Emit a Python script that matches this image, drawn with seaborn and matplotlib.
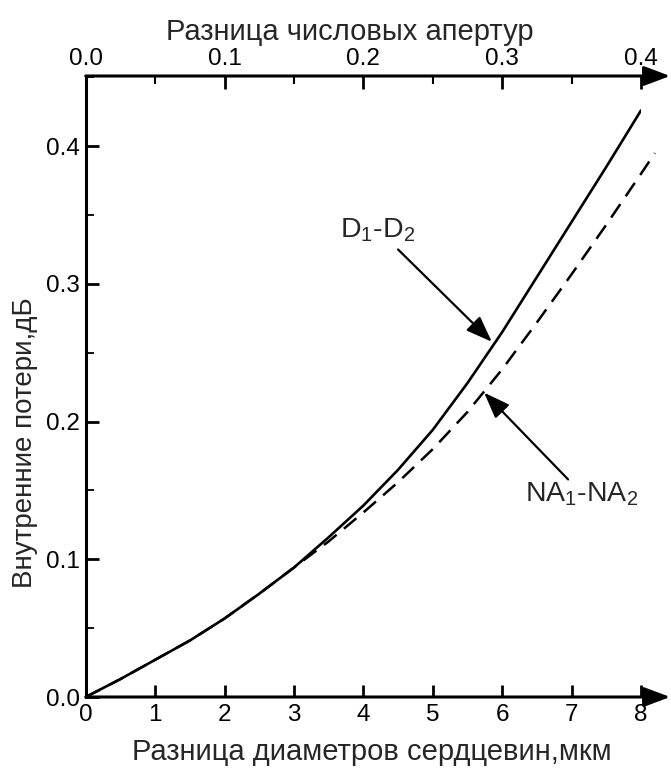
import matplotlib
matplotlib.use("Agg")
import matplotlib.pyplot as plt
from matplotlib.ticker import MultipleLocator
import pandas as pd
import seaborn as sns

# DATA

# core diameter difference, um -> intrinsic loss, dB
d_diff = [0, 0.5, 1, 1.5, 2, 2.5, 3, 3.5, 4, 4.5, 5, 5.5, 6, 6.5, 7, 7.5, 8]
d_loss = [0, 0.013, 0.027, 0.041, 0.057, 0.075, 0.094, 0.116, 0.139,
          0.165, 0.194, 0.228, 0.265, 0.305, 0.345, 0.385, 0.426]

# numerical aperture difference (plotted on the same bottom scale, x20)
na_diff = [0, 0.5, 1, 1.5, 2, 2.5, 3, 3.5, 4, 4.5, 5, 5.5, 6, 6.5, 7, 7.5, 8, 8.2]
na_loss = [0, 0.013, 0.027, 0.041, 0.057, 0.075, 0.094, 0.113, 0.134,
           0.156, 0.180, 0.207, 0.238, 0.272, 0.307, 0.343, 0.380, 0.395]

bottom_ticks = [0, 1, 2, 3, 4, 5, 6, 7, 8]
top_ticks = [0.0, 0.1, 0.2, 0.3, 0.4]
top_labels = ["0.0", "0.1", "0.2", "0.3", "0.4"]
y_ticks = [0.0, 0.1, 0.2, 0.3, 0.4]
y_labels = ["0.0", "0.1", "0.2", "0.3", "0.4"]

d_df = pd.DataFrame({"x": d_diff, "loss": d_loss})
na_df = pd.DataFrame({"x": na_diff, "loss": na_loss})

# STYLE

sns.set_theme(style="white")
plt.rcParams["font.family"] = ["Liberation Sans", "DejaVu Sans"]
plt.rcParams["mathtext.fontset"] = "custom"
plt.rcParams["mathtext.rm"] = "Liberation Sans"

W, H = 671, 771
left_px, right_px, bottom_px, top_px = 85.7, 641.0, 697.0, 76.0
Y_TOP = 0.451
X_TIP = 8.42

fig = plt.figure(figsize=(W / 100, H / 100), dpi=100)
fig.patch.set_facecolor("white")
ax = fig.add_axes([left_px / W, 1 - bottom_px / H,
                   (right_px - left_px) / W, (bottom_px - top_px) / H])

# CURVES

sns.lineplot(data=d_df, x="x", y="loss", ax=ax, color="black", lw=1.9)
sns.lineplot(data=na_df, x="x", y="loss", ax=ax, color="black", lw=1.8,
             linestyle=(0, (6.5, 3.8)), clip_on=False)

ax.set_xlim(0, 8)
ax.set_ylim(0, Y_TOP)

# AXES

for side in ["bottom", "top", "right"]:
    ax.spines[side].set_visible(False)
ax.spines["left"].set_linewidth(2.2)
ax.spines["left"].set_color("black")

arrow = dict(arrowstyle="-|>,head_length=0.8,head_width=0.3",
             mutation_scale=20, lw=2.2, color="black",
             shrinkA=0, shrinkB=0)
ax.annotate("", xy=(X_TIP, 0), xytext=(0, 0), arrowprops=arrow,
            annotation_clip=False)
ax.annotate("", xy=(X_TIP, Y_TOP), xytext=(0, Y_TOP), arrowprops=arrow,
            annotation_clip=False)

ax.set_xticks(bottom_ticks)
ax.set_xticklabels([str(t) for t in bottom_ticks])
ax.set_yticks(y_ticks)
ax.set_yticklabels(y_labels)
ax.yaxis.set_minor_locator(MultipleLocator(0.05))
ax.tick_params(axis="x", which="major", direction="in", bottom=True, top=False,
               length=9, width=2, labelsize=17.5, pad=5, colors="black")
ax.tick_params(axis="y", which="major", direction="in", left=True, right=False,
               length=9, width=2, labelsize=17.5, pad=4, colors="black")
ax.tick_params(axis="y", which="minor", direction="in", left=True,
               length=6, width=1.3, colors="black")

ax.set_xlabel("Разница диаметров сердцевин,мкм", fontsize=21)
ax.set_ylabel("Внутренние потери,дБ", fontsize=20)
ax.xaxis.set_label_coords(0.516, -0.066)
ax.yaxis.set_label_coords(-0.085, 0.409)

ax2 = ax.twiny()
for side in ["bottom", "top", "right", "left"]:
    ax2.spines[side].set_visible(False)
ax2.set_xlim(0, 0.4)
ax2.set_xticks(top_ticks)
ax2.set_xticklabels(top_labels)
ax2.xaxis.set_minor_locator(MultipleLocator(0.05))
ax2.tick_params(axis="x", which="major", direction="in", top=True, bottom=False,
                length=9, width=2, labelsize=17.5, pad=4, colors="black")
ax2.tick_params(axis="x", which="minor", direction="in", top=True, bottom=False,
                length=6, width=1.5, colors="black")
ax2.set_xlabel("Разница числовых апертур", fontsize=21)
ax2.xaxis.set_label_coords(0.476, 1.058)

# ANNOTATIONS

head = dict(arrowstyle="-|>,head_length=0.8,head_width=0.3",
            mutation_scale=20, lw=1.6, color="black", shrinkA=0, shrinkB=0)
ax.annotate("", xy=(5.85, 0.258), xytext=(4.50, 0.325), arrowprops=head)
ax.text(4.21, 0.339, r"$\mathrm{D_1}$-$\mathrm{D_2}$", fontsize=20.5,
        ha="center", va="center")

ax.annotate("", xy=(5.74, 0.221), xytext=(6.95, 0.158), arrowprops=head)
ax.text(7.15, 0.147, r"$\mathrm{NA_1}$-$\mathrm{NA_2}$", fontsize=20.5,
        ha="center", va="center")

fig.savefig("out.png", dpi=100, facecolor="white")
